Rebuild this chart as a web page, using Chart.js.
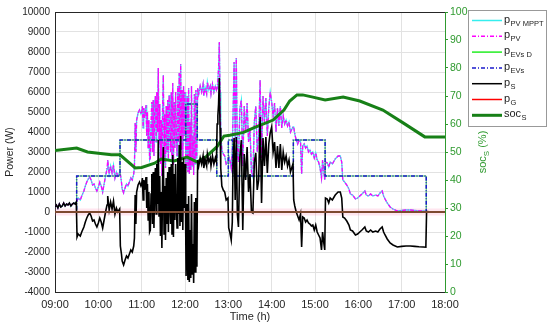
<!DOCTYPE html>
<html>
<head>
<meta charset="utf-8">
<script src="https://cdn.jsdelivr.net/npm/chart.js@4.4.1/dist/chart.umd.min.js"></script>
<style>
  html, body { margin: 0; padding: 0; background: #fff; }
  #wrap { width: 550px; height: 326px; }
</style>
</head>
<body>
<div id="wrap"><canvas id="chart" width="550" height="326"></canvas></div>
<script>
// time is kept in minutes after 09:00
const hourTicks = ['09:00', '10:00', '11:00', '12:00', '13:00', '14:00', '15:00', '16:00', '17:00', '18:00'];

// PV power and storage power, sampled on the same time grid
const tPower = [
    0, 2, 4, 6, 8, 10, 12, 14, 16, 18, 20, 22, 24, 26, 28, 29.5,
    30.5, 32, 35, 37, 40, 42, 44, 46, 48, 50, 52, 54, 56, 58, 60,
    62, 64, 66, 68, 70, 72, 73, 75, 77, 79, 81, 83, 85, 87, 89.5,
    90.5, 92, 93, 95, 97, 99, 101, 103, 105, 107, 109, 110, 111, 112, 113,
    115, 117, 119, 120, 121, 122, 123, 124, 126, 127, 128, 129, 130, 131, 132,
    133, 134, 135, 136, 137, 138, 139, 140, 141, 142, 143, 144, 145, 146, 147,
    148, 149, 150, 151, 152, 153, 154, 155, 156, 157, 158, 159, 160, 161, 162,
    163, 164, 165, 166, 167, 168, 169, 170, 171, 172, 173, 174, 175, 176, 177,
    178, 179, 180, 181, 181.5, 183, 184, 185, 186, 187, 188, 189, 190, 191, 192,
    193, 194, 195, 196, 196.5, 197.5, 199, 201, 203, 205, 206, 208, 210, 211, 213,
    215, 216, 218, 220, 222, 223.5, 224.5, 225.5, 226.5, 227.5, 228.5, 229.5, 231, 233, 235,
    237, 239.5, 240.5, 242, 244, 245.5, 246.5, 248, 249.5, 251, 252.5, 254, 256, 258, 260,
    262, 264, 266, 268, 270, 272, 274, 276, 278, 280, 282, 284, 286, 288, 290,
    292, 294, 296, 298, 300, 302, 304, 306, 308, 310, 312, 314, 316, 318, 320,
    322, 324, 326, 329.5, 330.5, 332, 334, 336, 338, 340, 341.5, 343, 345, 347, 349,
    351, 353, 355, 357, 359, 361, 363, 365, 367, 369, 370.5, 372, 373.5, 374.5, 377,
    379, 381, 384, 388, 392, 395, 397, 398.5, 401, 404, 407, 409, 412, 416, 419,
    422, 425, 429, 431, 434, 437, 440, 444, 447, 450, 453, 455, 457, 460, 464,
    468, 474, 480, 486, 492, 498, 504, 510, 513.5, 514.5, 520, 521
];
const pvPower = [
    250, 350, 200, 400, 250, 300, 450, 300, 400, 350, 450, 300, 400, 450, 400, 500,
    550, 700, 600, 800, 1050, 1300, 1500, 1650, 1750, 1600, 1350, 1400, 1200, 1050, 1250,
    1500, 1300, 1000, 1400, 1800, 2150, 2600, 1900, 2300, 1950, 2350, 1700, 2000, 1800, 1950,
    1900, 1500, 1150, 950, 1200, 1400, 1300, 1500, 1700, 1600, 1900, 2300, 4450, 3000, 4600,
    4950, 5100, 4900, 5000, 5300, 4200, 5200, 4700, 5350, 3800, 5000, 3200, 4600, 2600, 2700,
    4500, 5500, 3000, 5600, 2800, 4900, 5800, 3500, 6000, 4000, 7200, 3400, 5400, 2400, 4600,
    1800, 5200, 6850, 2500, 4900, 2200, 5300, 3000, 5600, 2600, 5850, 4200, 3000, 6000, 2500,
    6450, 2350, 5500, 3200, 6000, 4000, 2800, 6300, 3500, 6950, 2900, 7400, 3100, 6100, 2700,
    6300, 3800, 6000, 2600, 2200, 5800, 2000, 6200, 1900, 4500, 2100, 6300, 2300, 3800, 1850,
    5900, 2400, 6100, 2700, 3000, 6200, 5900, 6300, 6000, 6400, 5800, 6200, 5900, 6500, 6100,
    6300, 5900, 6400, 6000, 6300, 6100, 6200, 6600, 7200, 8500, 6000, 4000, 3100, 2900, 2800,
    2400, 2500, 2800, 2600, 2200, 3100, 4800, 7500, 3500, 7700, 3000, 2500, 5200, 5600, 2300,
    5300, 4000, 5450, 3500, 4200, 2000, 1750, 4500, 5300, 3000, 3800, 6600, 2700, 5800, 4500,
    5700, 3800, 5200, 6000, 5500, 4800, 5450, 4000, 5200, 4300, 5300, 4200, 4800, 4400, 4600,
    4300, 4500, 4000, 4250, 4250, 3900, 3600, 3400, 3600, 3500, 1900, 3300, 3400, 3200, 3300,
    3000, 3100, 2900, 3000, 2700, 2950, 2600, 2500, 2200, 1700, 2600, 2100, 1600, 2500, 2450,
    2250, 2500, 2400, 2650, 2800, 2800, 2500, 1600, 1500, 1350, 1150, 900, 850, 650, 700,
    800, 900, 1050, 850, 800, 900, 800, 850, 800, 950, 1050, 800, 650, 450, 250,
    150, 50, 80, 100, 100, 80, 60, 50, 40, 30, 0, 0
];
const psPower = [
    250, 350, 200, 400, 250, 300, 450, 300, 400, 350, 450, 300, 400, 450, 400, 500,
    -1250, -1100, -1200, -1000, -750, -500, -300, -150, -50, -200, -450, -400, -600, -750, -550,
    -300, -500, -800, -400, 0, 350, 800, 100, 500, 150, 550, -100, 200, 0, 150,
    -1700, -2100, -2450, -2650, -2400, -2200, -2300, -2100, -1900, -2000, -1700, -1300, 850, -600, 1000,
    1350, 1500, 1300, 1400, 1700, 600, 1600, 1100, 1750, 200, 1400, -400, 1000, -1000, -900,
    900, 1900, -600, 2000, -800, 1300, 2200, -100, 2400, 400, 3600, -200, 1800, -1200, 1000,
    -1800, 1600, 3250, -1100, 1300, -1400, 1700, -600, 2000, -1000, 2250, 600, -600, 2400, -1100,
    2850, -1250, 1900, -400, 2400, 400, -800, 2700, -100, 3350, -700, 3800, -500, 2500, -900,
    2700, 200, 2400, -1000, -3200, 400, -3400, 800, -3500, -900, -3300, 900, -3100, -1600, -3550,
    500, -3000, 700, -2700, -2400, 2600, 2300, 2700, 2400, 2800, 2200, 2600, 2300, 2900, 2500,
    2700, 2300, 2800, 2400, 2700, 2500, 4400, 4800, 5400, 6700, 4200, 2200, 1300, 1100, 1000,
    600, 700, -800, -1000, -1400, -500, 2400, 3700, 600, 3750, -100, -750, 2800, 3600, -900,
    2900, 1600, 3250, 1000, 1900, 0, -50, 2500, 2950, 1100, 1600, 4750, 450, 3700, 2300,
    3750, 1950, 3400, 3950, 4250, 3000, 3500, 2200, 3300, 2200, 3400, 2100, 3000, 2500, 2800,
    2300, 2600, 2000, 2400, 600, 300, 0, -200, -400, -100, -1750, -250, -300, -500, -400,
    -550, -600, -700, -650, -900, -650, -1000, -1150, -1300, -1900, -1000, -1500, -1900, 700, 650,
    450, 700, 600, 850, 1000, 1000, 700, -250, -300, -450, -650, -900, -950, -1150, -1100,
    -1000, -900, -750, -950, -1000, -900, -1000, -950, -1000, -850, -750, -1000, -1150, -1350, -1550,
    -1650, -1750, -1720, -1700, -1700, -1720, -1740, -1750, -1760, 30, 0, 0
];

// EV charging power, given at the instants where it changes (step line)
const evsTime = [0, 30, 90, 181, 197, 224, 240, 246, 330, 374, 514, 540];
const evsPower = [0, 1800, 3600, 5400, 3600, 1800, 3600, 1800, 3600, 1800, 0, 0];

// grid power
const gridTime = [0, 540];
const gridPower = [0, 0];

// storage state of charge (%)
const socTime = [0, 30, 45, 78, 90, 111, 120, 138, 147, 165, 183, 197, 210, 224, 234, 242,
    261, 275, 302, 317, 325, 335, 343, 357, 374, 399, 422, 454, 482, 512, 540];
const socValue = [50.5, 51.4, 50, 49, 49, 44.3, 44.5, 46, 47.5, 46.8, 48.2, 46.4, 48.5, 51.8, 55.7, 56,
    57, 58.6, 61.4, 65, 68.2, 70.4, 70.4, 69.6, 68.6, 69.6, 68.2, 65, 60.4, 55.4, 55.4];

const FONT = "'Liberation Sans', Arial, sans-serif";
const SOC_GREEN = '#178017';
const AXIS_GREEN = '#2f9a2f';
const DASH_DOT = [4, 1.5, 1, 1.5];

const toPoints = (xs, ys) => xs.map((x, i) => ({ x: x, y: ys[i] }));

// legend rows: main letter + subscript, drawn by hand so subscripts work
const legendRows = [
    { main: 'p', sub: 'PV MPPT', color: '#35eeee', dash: [], width: 1.5 },
    { main: 'p', sub: 'PV', color: '#ff00ff', dash: [4, 2, 1, 2], width: 1.5 },
    { main: 'p', sub: 'EVs D', color: '#22ee22', dash: [], width: 1.5 },
    { main: 'p', sub: 'EVs', color: '#1a1acc', dash: [4, 2, 1, 2], width: 1.5 },
    { main: 'p', sub: 'S', color: '#000000', dash: [], width: 1.5 },
    { main: 'p', sub: 'G', color: '#ff0000', dash: [], width: 1.5 },
    { main: 'soc', sub: 'S', color: SOC_GREEN, dash: [], width: 3 }
];

const decorPlugin = {
    id: 'decor',
    afterDraw(chart) {
        const ctx = chart.ctx;
        const a = chart.chartArea;
        ctx.save();

        // top edge of the plot box
        ctx.strokeStyle = '#262626';
        ctx.lineWidth = 1;
        ctx.beginPath();
        ctx.moveTo(a.left, Math.round(a.top) + 0.5);
        ctx.lineTo(a.right, Math.round(a.top) + 0.5);
        ctx.stroke();

        // right axis title: soc_S (%)
        ctx.save();
        ctx.translate(482, (a.top + a.bottom) / 2);
        ctx.rotate(-Math.PI / 2);
        ctx.fillStyle = AXIS_GREEN;
        ctx.textBaseline = 'alphabetic';
        ctx.textAlign = 'left';
        ctx.font = '11px ' + FONT;
        const w1 = ctx.measureText('soc').width;
        const w3 = ctx.measureText(' (%)').width;
        ctx.font = '8px ' + FONT;
        const w2 = ctx.measureText('S').width;
        let x = -(w1 + w2 + w3) / 2;
        ctx.font = '11px ' + FONT;
        ctx.fillText('soc', x, 4);
        x += w1;
        ctx.font = '8px ' + FONT;
        ctx.fillText('S', x, 7);
        x += w2;
        ctx.font = '11px ' + FONT;
        ctx.fillText(' (%)', x, 4);
        ctx.restore();

        // legend box
        const bx = 468.5, by = 10.5, bw = 78, bh = 116;
        ctx.fillStyle = '#ffffff';
        ctx.fillRect(bx, by, bw, bh);
        ctx.strokeStyle = '#999999';
        ctx.lineWidth = 1;
        ctx.strokeRect(bx, by, bw, bh);

        legendRows.forEach((row, i) => {
            const y = 20.5 + i * 15.8;
            ctx.strokeStyle = row.color;
            ctx.lineWidth = row.width;
            ctx.setLineDash(row.dash);
            ctx.beginPath();
            ctx.moveTo(472, y);
            ctx.lineTo(502, y);
            ctx.stroke();
            ctx.setLineDash([]);

            ctx.fillStyle = '#222222';
            ctx.textAlign = 'left';
            ctx.textBaseline = 'alphabetic';
            ctx.font = '11px ' + FONT;
            ctx.fillText(row.main, 504, y + 2);
            const mw = ctx.measureText(row.main).width;
            ctx.font = '7.5px ' + FONT;
            ctx.fillText(row.sub, 504 + mw + 0.5, y + 5);
        });

        ctx.restore();
    }
};

const ctx = document.getElementById('chart');

new Chart(ctx, {
    type: 'line',
    data: {
        datasets: [
            {
                label: 'pG halo',
                data: toPoints(gridTime, gridPower),
                borderColor: 'rgba(255, 140, 180, 0.22)',
                borderWidth: 7,
                order: 9
            },
            {
                label: 'pPV MPPT',
                data: toPoints(tPower, pvPower),
                borderColor: '#35eeee',
                borderWidth: 1.3,
                order: 6
            },
            {
                label: 'pPV',
                data: toPoints(tPower, pvPower),
                borderColor: '#ff00ff',
                borderWidth: 1.3,
                borderDash: DASH_DOT,
                order: 5
            },
            {
                label: 'pEVsD',
                data: toPoints(evsTime, evsPower),
                borderColor: '#44dd44',
                borderWidth: 1,
                stepped: true,
                order: 4
            },
            {
                label: 'pEVs',
                data: toPoints(evsTime, evsPower),
                borderColor: '#1a1acc',
                borderWidth: 1.5,
                borderDash: DASH_DOT,
                stepped: true,
                order: 3
            },
            {
                label: 'pS',
                data: toPoints(tPower, psPower),
                borderColor: '#000000',
                borderWidth: 1.6,
                order: 1
            },
            {
                label: 'pG',
                data: toPoints(gridTime, gridPower),
                borderColor: '#7d4a30',
                borderWidth: 2,
                order: 0
            },
            {
                label: 'socS',
                data: toPoints(socTime, socValue),
                borderColor: SOC_GREEN,
                borderWidth: 3,
                yAxisID: 'y2',
                order: 2
            }
        ]
    },
    options: {
        responsive: false,
        animation: false,
        devicePixelRatio: 1,
        layout: { padding: { top: 12, left: 0, right: 0, bottom: 0 } },
        elements: {
            point: { radius: 0 },
            line: { tension: 0, fill: false }
        },
        plugins: {
            legend: { display: false },
            tooltip: { enabled: false }
        },
        scales: {
            x: {
                type: 'linear',
                min: 0,
                max: 540,
                afterFit: s => { s.height = 34; },
                grid: { color: '#e2e2e2', drawTicks: false },
                border: { color: '#262626' },
                ticks: {
                    stepSize: 60,
                    autoSkip: false,
                    maxRotation: 0,
                    padding: 6,
                    color: '#262626',
                    font: { family: FONT, size: 11 },
                    callback: v => hourTicks[Math.round(v / 60)]
                },
                title: {
                    display: true,
                    text: 'Time (h)',
                    color: '#262626',
                    font: { family: FONT, size: 11 },
                    padding: { top: 0, bottom: 2 }
                }
            },
            y: {
                position: 'left',
                min: -4000,
                max: 10000,
                afterFit: s => { s.width = 55; },
                grid: { color: '#e2e2e2', drawTicks: false },
                border: { color: '#262626' },
                ticks: {
                    stepSize: 1000,
                    padding: 5,
                    color: '#262626',
                    font: { family: FONT, size: 10 },
                    callback: v => String(v)
                },
                title: {
                    display: true,
                    text: 'Power (W)',
                    color: '#262626',
                    font: { family: FONT, size: 10.5 },
                    padding: { top: 4, bottom: 0 }
                }
            },
            y2: {
                position: 'right',
                min: 0,
                max: 100,
                afterFit: s => { s.width = 105; },
                grid: { drawOnChartArea: false, color: AXIS_GREEN, tickLength: 3 },
                border: { color: AXIS_GREEN },
                ticks: {
                    stepSize: 10,
                    padding: 2,
                    color: AXIS_GREEN,
                    font: { family: FONT, size: 10.5 },
                    callback: v => String(v)
                }
            }
        }
    },
    plugins: [decorPlugin]
});
</script>
</body>
</html>
